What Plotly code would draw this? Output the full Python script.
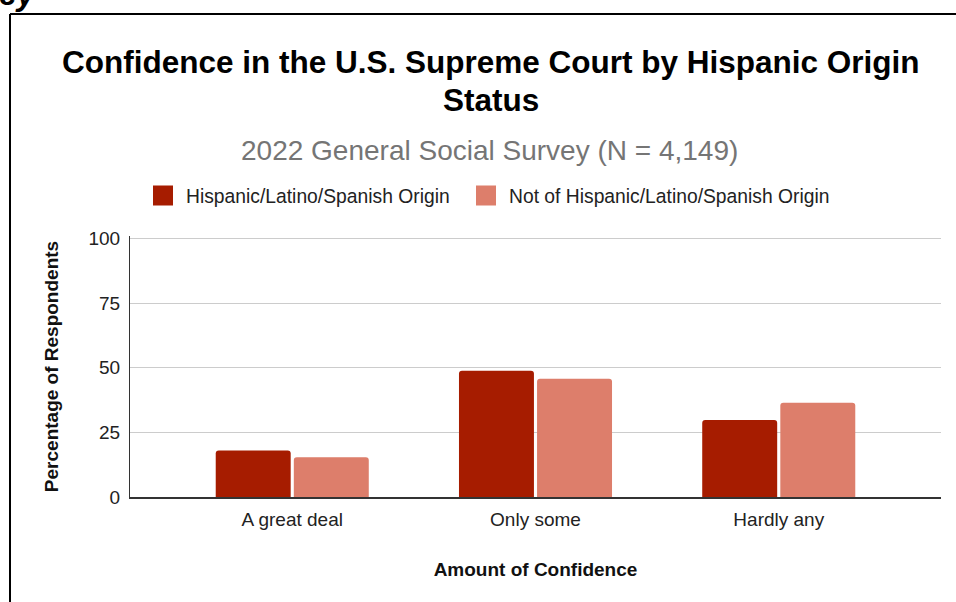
import plotly.graph_objects as go

categories = ["A great deal", "Only some", "Hardly any"]
hispanic = [18.0, 48.9, 29.8]
not_hispanic = [15.4, 45.8, 36.5]
series_names = ["Hispanic/Latino/Spanish Origin", "Not of Hispanic/Latino/Spanish Origin"]
y_ticks = [0, 25, 50, 75, 100]

FONT = "Liberation Sans, Arial, sans-serif"
DARK = "#A61C00"
LIGHT = "#DD7E6B"
colors = [DARK, LIGHT]
legend_ids = ["legend", "legend2"]

fig = go.Figure()
for name, vals, col in zip(series_names, [hispanic, not_hispanic], colors):
    fig.add_trace(go.Bar(x=categories, y=vals, name=name, legendgroup=name,
                         showlegend=False,
                         marker=dict(color=col, line=dict(width=0))))
# legend entries (larger square swatches)
for name, col, lid in zip(series_names, colors, legend_ids):
    fig.add_trace(go.Scatter(x=[None], y=[None], mode="markers", name=name,
                             legendgroup=name, legend=lid,
                             marker=dict(symbol="square", size=16, color=col,
                                         line=dict(color=col, width=4))))

L, R, T, B = 130, 15, 236, 105
W, H = 956, 602
pw, ph = W - L - R, H - T - B
YMAX = 101.0

def px_x(px):
    return (px - L) / pw

def px_y(py):
    return (H - B - py) / ph

legend_style = dict(orientation="h", xanchor="left", y=px_y(196), yanchor="middle",
                    itemwidth=36, bgcolor="rgba(0,0,0,0)",
                    font=dict(size=19.3, color="#222222"))

fig.update_layout(
    width=W, height=H,
    margin=dict(l=L, r=R, t=T, b=B, pad=0),
    paper_bgcolor="white", plot_bgcolor="white",
    font=dict(family=FONT, size=19, color="#222222"),
    barmode="group", bargap=0.358, bargroupgap=0.04, barcornerradius=3,
    showlegend=True,
    legend=dict(x=px_x(140), **legend_style),
    legend2=dict(x=px_x(463), **legend_style),
    xaxis=dict(range=[-0.667, 2.667], showgrid=False, showline=True,
               linecolor="#333333", linewidth=1.5, ticks="",
               ticklabelstandoff=4,
               tickfont=dict(size=19, color="#222222"),
               title=dict(text="<b>Amount of Confidence</b>", standoff=34,
                          font=dict(size=19, color="#111111"))),
    yaxis=dict(range=[0, YMAX], tickvals=y_ticks, showgrid=True,
               gridcolor="#cccccc", gridwidth=1, showline=True,
               linecolor="#333333", linewidth=1, ticks="", zeroline=False,
               ticklabelstandoff=5,
               tickfont=dict(size=19, color="#222222"),
               title=dict(text="<b>Percentage of Respondents</b>", standoff=24,
                          font=dict(size=19, color="#111111"))),
)

fig.add_annotation(text="<b>Confidence in the U.S. Supreme Court by Hispanic Origin</b>",
                   xref="paper", yref="paper", x=px_x(491), y=px_y(62),
                   xanchor="center", yanchor="middle", showarrow=False,
                   font=dict(size=31.5, color="#000000", family=FONT))
fig.add_annotation(text="<b>Status</b>",
                   xref="paper", yref="paper", x=px_x(491), y=px_y(100),
                   xanchor="center", yanchor="middle", showarrow=False,
                   font=dict(size=31.5, color="#000000", family=FONT))
fig.add_annotation(text="2022 General Social Survey (N = 4,149)",
                   xref="paper", yref="paper", x=px_x(489), y=px_y(150),
                   xanchor="center", yanchor="middle", showarrow=False,
                   font=dict(size=28, color="#757575", family=FONT))
fig.add_annotation(text="<b><i>ey</i></b>",
                   xref="paper", yref="paper", x=px_x(-3), y=px_y(14),
                   xanchor="left", yanchor="bottom", showarrow=False,
                   font=dict(size=32, color="#000000", family=FONT))

# page border of the screenshot
fig.add_shape(type="line", xref="paper", yref="paper",
              x0=px_x(10), x1=px_x(10), y0=px_y(14), y1=px_y(610),
              line=dict(color="black", width=2))
fig.add_shape(type="line", xref="paper", yref="paper",
              x0=px_x(10), x1=px_x(960), y0=px_y(14), y1=px_y(14),
              line=dict(color="black", width=2))

fig.write_html("out.html")
